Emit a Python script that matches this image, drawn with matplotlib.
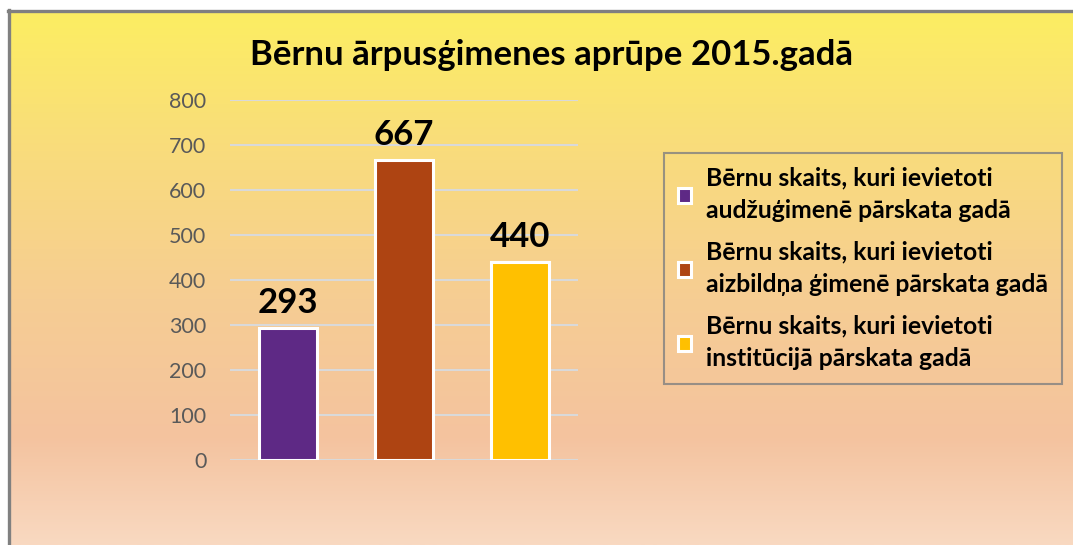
import matplotlib
matplotlib.use("Agg")
import matplotlib.pyplot as plt
import numpy as np
from matplotlib.colors import LinearSegmentedColormap

plt.rcParams["font.family"] = ["Lato", "DejaVu Sans"]

title = "Bērnu ārpusģimenes aprūpe 2015.gadā"
series_labels = [
    "Bērnu skaits, kuri ievietoti\naudžuģimenē pārskata gadā",
    "Bērnu skaits, kuri ievietoti\naizbildņa ģimenē pārskata gadā",
    "Bērnu skaits, kuri ievietoti\ninstitūcijā pārskata gadā",
]
values = [293, 667, 440]
colors = ["#5E2985", "#AE4412", "#FFC000"]
y_ticks = [0, 100, 200, 300, 400, 500, 600, 700, 800]

W, H = 1073, 545
fig = plt.figure(figsize=(W / 100, H / 100), dpi=100)

# gradient background inside the frame
bg = fig.add_axes([8.5 / W, 0, 1 - 8.5 / W, (H - 11) / H])
bg.set_axis_off()
cmap = LinearSegmentedColormap.from_list(
    "bg",
    [(0.0, "#FCEE62"), (0.26, "#F9DC7C"), (0.54, "#F6CD93"),
     (0.80, "#F4C39F"), (1.0, "#F9D9C1")],
)
grad = np.linspace(0, 1, 256).reshape(-1, 1)
bg.imshow(grad, aspect="auto", cmap=cmap, extent=[0, 1, 0, 1])
bg.set_xlim(0, 1)
bg.set_ylim(0, 1)
# frame lines (left and top)
fig.add_artist(plt.Line2D([8.5 / W, 8.5 / W], [0, 1 - 9.5 / H],
                          transform=fig.transFigure, color="#808080", lw=2.4))
fig.add_artist(plt.Line2D([7.5 / W, 1], [1 - 11 / H, 1 - 11 / H],
                          transform=fig.transFigure, color="#808080", lw=2.4))

ax = fig.add_axes([230 / W, (H - 460) / H, 348 / W, 360 / H])
ax.patch.set_alpha(0)
x = np.arange(len(values))
bars = ax.bar(x, values, width=0.5, color=colors, edgecolor="white",
              linewidth=2.2, label=series_labels, zorder=3)
ax.set_xlim(-0.5, len(values) - 0.5)
ax.set_ylim(0, 800)
ax.set_yticks(y_ticks)
ax.tick_params(axis="y", length=0, pad=17, labelsize=15.5, labelcolor="#595959")
ax.set_xticks([])
ax.yaxis.grid(True, color="#D9D9D9", linewidth=1.5, zorder=0)
for s in ax.spines.values():
    s.set_visible(False)

for xi, v in zip(x, values):
    ax.text(xi, v + 20, str(v), ha="center", va="bottom",
            fontsize=25, fontweight="bold", color="black")

fig.text(551 / W, 1 - 55 / H, title, ha="center", va="center",
         fontsize=25, fontweight="bold", color="black")

leg = fig.legend(handles=bars, labels=series_labels, loc="upper left",
                 bbox_to_anchor=(664 / W, 1 - 153 / H),
                 prop={"weight": "bold", "size": 17.8},
                 frameon=True, fancybox=False, edgecolor="#808080",
                 facecolor="none", handlelength=0.55, handleheight=0.55,
                 handletextpad=0.6, labelspacing=0.75, borderpad=0.55,
                 borderaxespad=0)
leg.get_frame().set_linewidth(1.5)
for t in leg.get_texts():
    t.set_linespacing(1.5)

fig.savefig("out.png", dpi=100)
